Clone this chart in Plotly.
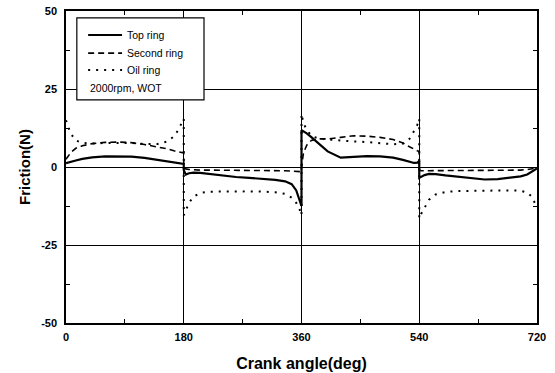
import plotly.graph_objects as go

# Crank angle offsets within each half-stroke
seg_offsets = [0, 180, 360, 540]
seg_points = [0, 3, 8, 15, 25, 40, 60, 80, 100, 120, 140, 155, 165, 172, 177, 180]
angles = [o + p for o in seg_offsets for p in seg_points]

top_ring = [
    1.2, 1.4, 1.7, 2.1, 2.6, 3.1, 3.4, 3.4, 3.3, 2.9, 2.3, 1.8, 1.4, 1.1, 1.0, 1.0,
    -1.0, -2.4, -2.0, -1.8, -1.9, -2.3, -2.8, -3.2, -3.5, -3.8, -4.1, -4.6, -5.5, -7.5, -10.5, -12.5,
    11.8, 11.5, 10.8, 9.6, 7.8, 5.0, 3.0, 3.3, 3.5, 3.4, 3.0, 2.3, 1.7, 1.3, 1.4, 1.9,
    -3.5, -3.2, -2.6, -2.2, -2.3, -2.7, -3.2, -3.7, -4.0, -3.9, -3.5, -3.0, -2.4, -1.6, -1.0, -0.5,
]
second_ring = [
    2.5, 3.5, 4.8, 6.0, 6.8, 7.5, 7.9, 8.0, 7.8, 7.2, 6.5, 5.8, 5.2, 4.8, 4.6, 4.5,
    -0.3, -0.6, -0.8, -0.9, -1.0, -1.0, -1.0, -1.0, -1.0, -1.0, -1.1, -1.2, -1.3, -1.4, -1.5, -1.5,
    0.0, 4.5, 7.0, 8.5, 9.0, 9.0, 9.5, 10.0, 9.9, 9.5, 8.8, 7.7, 6.5, 5.6, 5.2, 5.0,
    -1.0, -1.2, -1.2, -1.2, -1.2, -1.2, -1.2, -1.2, -1.2, -1.2, -1.1, -1.0, -0.8, -0.6, -0.4, -0.3,
]
oil_ring = [
    15.0, 13.0, 10.5, 8.5, 7.7, 7.5, 7.7, 7.8, 7.7, 7.4, 7.4, 8.2, 9.8, 12.0, 14.0, 15.5,
    -15.5, -14.0, -11.5, -9.5, -8.3, -7.9, -7.8, -7.8, -7.8, -7.9, -8.1, -8.6, -9.8, -11.5, -13.5, -15.5,
    17.0, 14.0, 12.0, 10.0, 9.2, 8.8, 8.4, 8.2, 8.0, 7.6, 7.3, 7.5, 9.0, 11.5, 13.5, 15.5,
    -16.5, -15.0, -13.0, -10.5, -8.8, -8.0, -7.7, -7.6, -7.5, -7.5, -7.5, -7.6, -8.2, -9.5, -11.5, -13.0,
]

x_ticks = [0, 180, 360, 540, 720]
y_ticks = [-50, -25, 0, 25, 50]
series_names = ["Top ring", "Second ring", "Oil ring"]
condition_label = "2000rpm, WOT"

styles = [
    dict(color="black", width=2.2, dash="solid"),
    dict(color="black", width=1.6, dash="6px,4px"),
    dict(color="black", width=2.0, dash="2px,6px"),
]

fig = go.Figure()
for name, vals, st in zip(series_names, [top_ring, second_ring, oil_ring], styles):
    fig.add_trace(go.Scatter(x=angles, y=vals, mode="lines", name=name, line=st,
                             showlegend=False))

# Manual legend box
shapes = [dict(type="rect", xref="paper", yref="paper", x0=0.023, x1=0.293, y0=0.715, y1=0.978,
               line=dict(color="black", width=1.2), fillcolor="white", layer="above")]
row_y = [0.923, 0.865, 0.811]
annotations = []
for name, st, yy in zip(series_names, styles, row_y):
    shapes.append(dict(type="line", xref="paper", yref="paper", x0=0.047, x1=0.119, y0=yy, y1=yy,
                       line=dict(color="black", width=st["width"], dash=st["dash"]), layer="above"))
    annotations.append(dict(xref="paper", yref="paper", x=0.125, y=yy, text=name, showarrow=False,
                            xanchor="left", yanchor="middle",
                            font=dict(family="Liberation Sans, Arial", size=10.5, color="black")))
annotations.append(dict(xref="paper", yref="paper", x=0.047, y=0.753, text=condition_label,
                        showarrow=False, xanchor="left", yanchor="middle",
                        font=dict(family="Liberation Sans, Arial", size=10.5, color="black")))

axis_common = dict(
    showline=True, linecolor="black", linewidth=1.5, mirror="ticks",
    showgrid=True, gridcolor="black", gridwidth=1.3,
    ticks="inside", ticklen=4, tickcolor="black", tickwidth=1,
    tickfont=dict(family="Liberation Sans, Arial", size=11, color="black", weight="bold"),
    zeroline=False, automargin=False,
)

fig.update_layout(
    width=555, height=373,
    margin=dict(l=66, r=18, t=11, b=50),
    paper_bgcolor="white", plot_bgcolor="white",
    shapes=shapes, annotations=annotations,
    xaxis=dict(range=[0, 720], tickvals=x_ticks, ticktext=[str(v) for v in x_ticks],
               ticklabelstandoff=3,
               minor=dict(tickvals=[90, 270, 450, 630], ticks="inside", ticklen=4,
                          tickcolor="black", showgrid=False),
               title=dict(text="<b>Crank angle(deg)</b>", standoff=16,
                          font=dict(family="Liberation Sans, Arial", size=16, color="black")),
               **axis_common),
    yaxis=dict(range=[-50, 50], tickvals=y_ticks, ticktext=[str(v) for v in y_ticks],
               ticklabelstandoff=5,
               minor=dict(tickvals=[-37.5, -12.5, 12.5, 37.5], ticks="inside", ticklen=4,
                          tickcolor="black", showgrid=False),
               title=dict(text="<b>Friction(N)</b>", standoff=7,
                          font=dict(family="Liberation Sans, Arial", size=15, color="black")),
               **axis_common),
)

fig.write_html("out.html", config={"displayModeBar": False},
               post_script="document.body.style.margin='0px';")
